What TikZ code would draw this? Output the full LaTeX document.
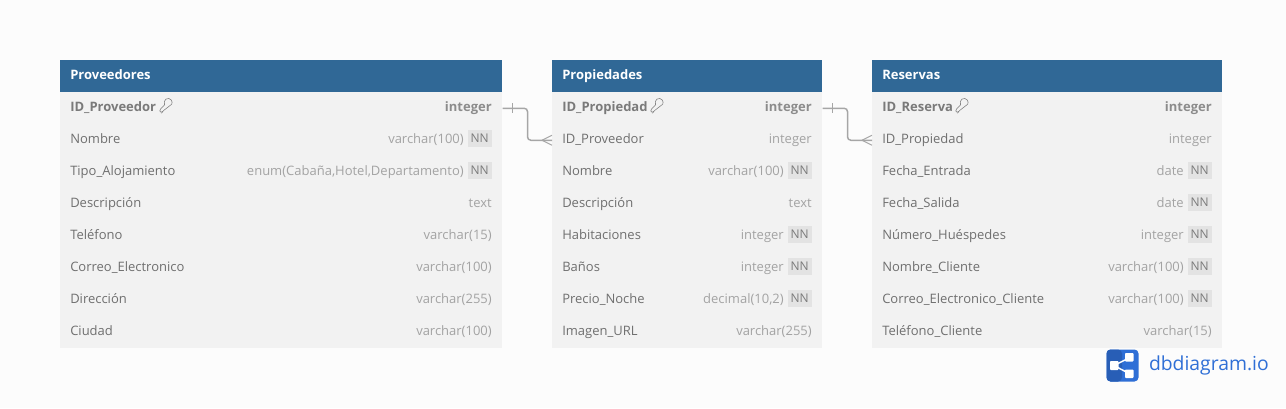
\documentclass[tikz,border=0pt]{standalone}
\usepackage{fontspec}
\setmainfont{Open Sans}
\usepackage{tikz}
\usetikzlibrary{positioning,calc}
\definecolor{fondo}{HTML}{FCFCFC}
\definecolor{cuerpo}{HTML}{F2F2F2}
\definecolor{cabecera}{HTML}{306896}
\definecolor{campo}{HTML}{6F6F6F}
\definecolor{campoclave}{HTML}{7A7A7A}
\definecolor{tipo}{HTML}{A3A3A3}
\definecolor{tipoclave}{HTML}{8C8C8C}
\definecolor{linea}{HTML}{A6A6A6}
\definecolor{marca}{HTML}{2F6FD6}
\tikzstyle{header} = [fill=cabecera,text=white,font=\fontsize{9.75}{12}\selectfont\bfseries,minimum height=24pt,inner sep=0pt,anchor=north west,text depth=2.4pt]
\tikzstyle{body} = [fill=cuerpo,inner sep=0pt,anchor=north west]
\tikzstyle{fila} = [inner sep=0pt,minimum height=24pt,anchor=north west]
\tikzstyle{nombre} = [text=campo,font=\fontsize{9.75}{12}\selectfont,inner sep=0pt,anchor=base west]
\tikzstyle{clave} = [nombre,text=campoclave,font=\fontsize{9.75}{12}\selectfont\bfseries]
\tikzstyle{dato} = [text=tipo,font=\fontsize{9.75}{12}\selectfont,inner sep=0pt,anchor=base east]
\tikzstyle{datoclave} = [dato,text=tipoclave,font=\fontsize{9.75}{12}\selectfont\bfseries]
\tikzstyle{nn} = [fill=black!11,text=campoclave,font=\fontsize{9}{12}\selectfont,inner sep=0pt,minimum width=18pt,minimum height=12.75pt,anchor=east]
\tikzstyle{relacion} = [draw=linea,line width=1.1pt,rounded corners=2.5pt]
\tikzstyle{marcas} = [draw=linea,line width=0.8pt]
\tikzset{pics/llave/.style={code={
  \draw[campoclave,line width=0.4pt,rounded corners=0.6pt] (0,11) -- (0,8.5) -- (5,3.5) arc[start angle=215,end angle=-35,radius=2.9pt] -- (3,10) -- (2.5,11) -- cycle;
}}}
\begin{document}
\begin{tikzpicture}[x=0.75pt,y=-0.75pt]
  \useasboundingbox[fill=fondo] (0,0) rectangle (1286,408);
  % Proveedores
  \node (provbody)[body,minimum width=331.5pt,minimum height=192pt] at (60,92) {};
  \node (provhead)[header,minimum width=331.5pt,text width=316.5pt,align=left] at (60,60) {Proveedores};
  \foreach \i/\campo/\tipo/\fin in {2/Nombre/varchar(100)/28,3/Tipo\_Alojamiento/{enum(Cabaña,Hotel,Departamento)}/28,4/Descripción/text/0,5/Teléfono/varchar(15)/0,6/Correo\_Electronico/varchar(100)/0,7/Dirección/varchar(255)/0,8/Ciudad/varchar(100)/0}{
    \node (prov\i)[fila,minimum width=331.5pt] at (60,60+32*\i) {};
    \node (provn\i)[nombre] at (70,79.5+32*\i) {\campo};
    \node (provt\i)[dato] at (492-\fin,79.5+32*\i) {\tipo};
  }
  \node (prov1)[fila,minimum width=331.5pt] at (60,92) {};
  \node (provn1)[clave] at (70,111.5) {ID\_Proveedor};
  \node (provt1)[datoclave] at (492,111.5) {integer};
  \pic at (160,101) {llave};
  \node (provnn2)[nn] at (492,138.5) {NN};
  \node (provnn3)[nn] at (492,170.5) {NN};
  % Propiedades
  \node (propbody)[body,minimum width=202.5pt,minimum height=192pt] at (552,92) {};
  \node (prophead)[header,minimum width=202.5pt,text width=187.5pt,align=left] at (552,60) {Propiedades};
  \foreach \i/\campo/\tipo/\fin in {2/ID\_Proveedor/integer/0,3/Nombre/varchar(100)/28,4/Descripción/text/0,5/Habitaciones/integer/28,6/Baños/integer/28,7/Precio\_Noche/{decimal(10,2)}/28,8/Imagen\_URL/varchar(255)/0}{
    \node (prop\i)[fila,minimum width=202.5pt] at (552,60+32*\i) {};
    \node (propn\i)[nombre] at (562,79.5+32*\i) {\campo};
    \node (propt\i)[dato] at (812-\fin,79.5+32*\i) {\tipo};
  }
  \node (prop1)[fila,minimum width=202.5pt] at (552,92) {};
  \node (propn1)[clave] at (562,111.5) {ID\_Propiedad};
  \node (propt1)[datoclave] at (812,111.5) {integer};
  \pic at (651,101) {llave};
  \foreach \i in {3,5,6,7}
    \node (propnn\i)[nn] at (812,74.5+32*\i) {NN};
  % Reservas
  \node (resbody)[body,minimum width=262.5pt,minimum height=192pt] at (872,92) {};
  \node (reshead)[header,minimum width=262.5pt,text width=247.5pt,align=left] at (872,60) {Reservas};
  \foreach \i/\campo/\tipo/\fin in {2/ID\_Propiedad/integer/0,3/Fecha\_Entrada/date/28,4/Fecha\_Salida/date/28,5/Número\_Huéspedes/integer/28,6/Nombre\_Cliente/varchar(100)/28,7/Correo\_Electronico\_Cliente/varchar(100)/28,8/Teléfono\_Cliente/varchar(15)/0}{
    \node (res\i)[fila,minimum width=262.5pt] at (872,60+32*\i) {};
    \node (resn\i)[nombre] at (882,79.5+32*\i) {\campo};
    \node (rest\i)[dato] at (1212-\fin,79.5+32*\i) {\tipo};
  }
  \node (res1)[fila,minimum width=262.5pt] at (872,92) {};
  \node (resn1)[clave] at (882,111.5) {ID\_Reserva};
  \node (rest1)[datoclave] at (1212,111.5) {integer};
  \pic at (956,101) {llave};
  \foreach \i in {3,4,5,6,7}
    \node (resnn\i)[nn] at (1212,74.5+32*\i) {NN};
  % relaciones
  \draw[relacion] (prov1.east) -- ++(25,0) |- (prop2.west);
  \draw[relacion] (prop1.east) -- ++(25,0) |- (res2.west);
  \draw[marcas] ($(prov1.east)+(10,-5)$) -- ++(0,10);
  \draw[marcas] ($(prop2.west)+(-10,0)$) -- ($(prop2.west)+(0,-5)$);
  \draw[marcas] ($(prop2.west)+(-10,0)$) -- ($(prop2.west)+(0,5)$);
  \draw[marcas] ($(prop1.east)+(10,-5)$) -- ++(0,10);
  \draw[marcas] ($(res2.west)+(-10,0)$) -- ($(res2.west)+(0,-5)$);
  \draw[marcas] ($(res2.west)+(-10,0)$) -- ($(res2.west)+(0,5)$);
  % logo
  \node (logo)[fill=marca,rounded corners=3pt,minimum size=24pt,inner sep=0pt] at (1122.5,365.5) {};
  \fill[marca!85!black,rounded corners=3pt] (1106.5,349.5) -- (1122,349.5) -- (1122,381.5) -- (1106.5,381.5) -- cycle;
  \draw[white,line width=1.1pt] (1130,357.5) -- (1114,365.5) -- (1130,374);
  \fill[white,rounded corners=0.6pt] (1110,361) rectangle (1118.5,370);
  \fill[white,rounded corners=0.6pt] (1125,353) rectangle (1133.5,361.5);
  \fill[white,rounded corners=0.6pt] (1125,369.5) rectangle (1133.5,378);
  \node (marcatxt)[right=7.5pt of logo,inner sep=0pt,text=marca,font=\fontsize{14.5}{18}\selectfont] {dbdiagram.io};
\end{tikzpicture}
\end{document}
